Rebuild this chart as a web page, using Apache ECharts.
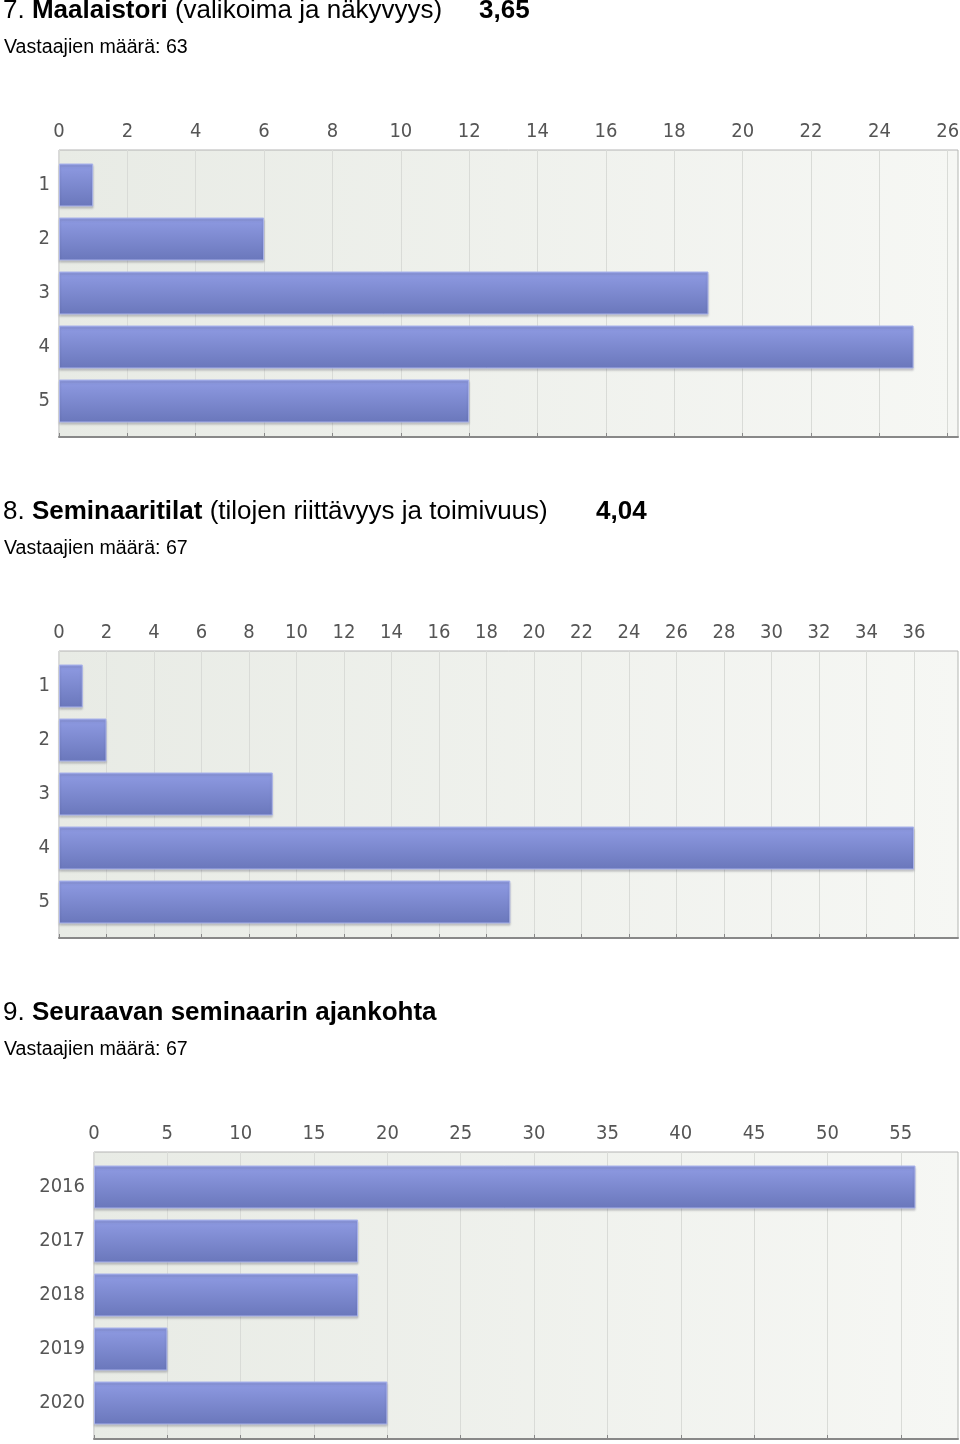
<!DOCTYPE html>
<html>
<head>
<meta charset="utf-8">
<title>Kyselyn tulokset</title>
<script src="https://cdn.jsdelivr.net/npm/echarts@6/dist/echarts.min.js"></script>
<style>
  html, body { margin: 0; padding: 0; background: #fff; }
  #chart { width: 960px; height: 1444px; }
</style>
</head>
<body>
<div id="chart"></div>
<script>
// --- data ---
var scaleCats = ['1', '2', '3', '4', '5'];
var yearCats = ['2016', '2017', '2018', '2019', '2020'];

var maalaistoriValues = [1, 6, 19, 25, 12];
var seminaariValues = [1, 2, 9, 36, 19];
var ajankohtaValues = [56, 18, 18, 5, 20];

var axisMax = [26.3, 37.85, 58.9];
var axisStep = [2, 2, 5];

var questions = [
  { num: '7. ', bold: 'Maalaistori', rest: ' (valikoima ja näkyvyys)', avg: '3,65', avgX: 479, n: 63 },
  { num: '8. ', bold: 'Seminaaritilat', rest: ' (tilojen riittävyys ja toimivuus)', avg: '4,04', avgX: 596, n: 67 },
  { num: '9. ', bold: 'Seuraavan seminaarin ajankohta', rest: '', avg: '', avgX: 0, n: 67 }
];

var blocks = [
  { cats: scaleCats, values: maalaistoriValues, left: 59 },
  { cats: scaleCats, values: seminaariValues, left: 59 },
  { cats: yearCats, values: ajankohtaValues, left: 94 }
];

var chart = echarts.init(document.getElementById('chart'));

var FONT = '"Liberation Sans", Arial, sans-serif';
var TICKFONT = '"DejaVu Sans Condensed", "Liberation Sans Narrow", sans-serif';

var titles = [], grids = [], xAxes = [], yAxes = [], series = [];

blocks.forEach(function (b, i) {
  var oy = i * 501;
  var q = questions[i];
  var right = 958;
  var width = right - b.left;

  titles.push({
    text: '{n|' + q.num + '}{b|' + q.bold + '}' + (q.rest ? '{n|' + q.rest + '}' : ''),
    left: 3, top: -3 + oy, padding: 0,
    textStyle: {
      fontWeight: 'normal',
      rich: {
        n: { fontFamily: FONT, fontSize: 26, fontWeight: 'normal', color: '#000', lineHeight: 28 },
        b: { fontFamily: FONT, fontSize: 26, fontWeight: 'bold', color: '#000', lineHeight: 28 }
      }
    }
  });
  if (q.avg) {
    titles.push({
      text: q.avg, left: q.avgX, top: -3 + oy, padding: 0,
      textStyle: { fontFamily: FONT, fontSize: 26, fontWeight: 'bold', color: '#000', lineHeight: 28 }
    });
  }
  titles.push({
    text: 'Vastaajien määrä: ' + q.n,
    left: 4, top: 37 + oy, padding: 0,
    textStyle: { fontFamily: FONT, fontSize: 19.6, fontWeight: 'normal', color: '#000', lineHeight: 22 }
  });

  // background grid: plot area, top axis, gridlines
  var topBg = (i === 2 ? 1152 : 150 + oy);
  grids.push({
    left: b.left, top: topBg, width: width, height: 287,
    outerBoundsMode: 'none',
    show: true,
    borderColor: '#b4b4b4', borderWidth: 1,
    backgroundColor: new echarts.graphic.LinearGradient(0, 0, 1, 0, [
      { offset: 0, color: '#e8ebe5' },
      { offset: 1, color: '#f6f7f4' }
    ])
  });
  xAxes.push({
    gridIndex: grids.length - 1, type: 'value', position: 'top',
    min: 0, max: axisMax[i], interval: axisStep[i],
    axisLine: { show: true, lineStyle: { color: '#888', width: 2 } },
    axisTick: { show: true, length: 4, lineStyle: { color: '#888' } },
    axisLabel: { fontFamily: TICKFONT, fontSize: 20, color: '#555', margin: 8, showMaxLabel: false },
    splitLine: { show: true, lineStyle: { color: '#d9dbd7', width: 1 } }
  });
  yAxes.push({
    gridIndex: grids.length - 1, type: 'value', min: 0, max: 1, show: false
  });

  // bar grid
  grids.push({ left: b.left, top: topBg + 8, width: width, height: 270, outerBoundsMode: 'none' });
  xAxes.push({
    gridIndex: grids.length - 1, type: 'value', min: 0, max: axisMax[i], show: false
  });
  yAxes.push({
    gridIndex: grids.length - 1, type: 'category', inverse: true, data: b.cats,
    axisLine: { show: false }, axisTick: { show: false },
    axisLabel: { fontFamily: TICKFONT, fontSize: 20, color: '#555', margin: 9 },
    splitLine: { show: false }
  });
  series.push({
    type: 'bar',
    xAxisIndex: xAxes.length - 1, yAxisIndex: yAxes.length - 1,
    data: b.values,
    barWidth: 43,
    silent: true,
    itemStyle: {
      color: new echarts.graphic.LinearGradient(0, 0, 0, 1, [
        { offset: 0, color: '#8f9be3' },
        { offset: 1, color: '#6a77bb' }
      ]),
      borderColor: '#a9b3ea', borderWidth: 1,
      shadowColor: 'rgba(60,60,80,0.25)', shadowBlur: 2, shadowOffsetY: 2
    }
  });
});

var option = {
  animation: false,
  title: titles,
  grid: grids,
  xAxis: xAxes,
  yAxis: yAxes,
  series: series
};
chart.setOption(option);
</script>
</body>
</html>
